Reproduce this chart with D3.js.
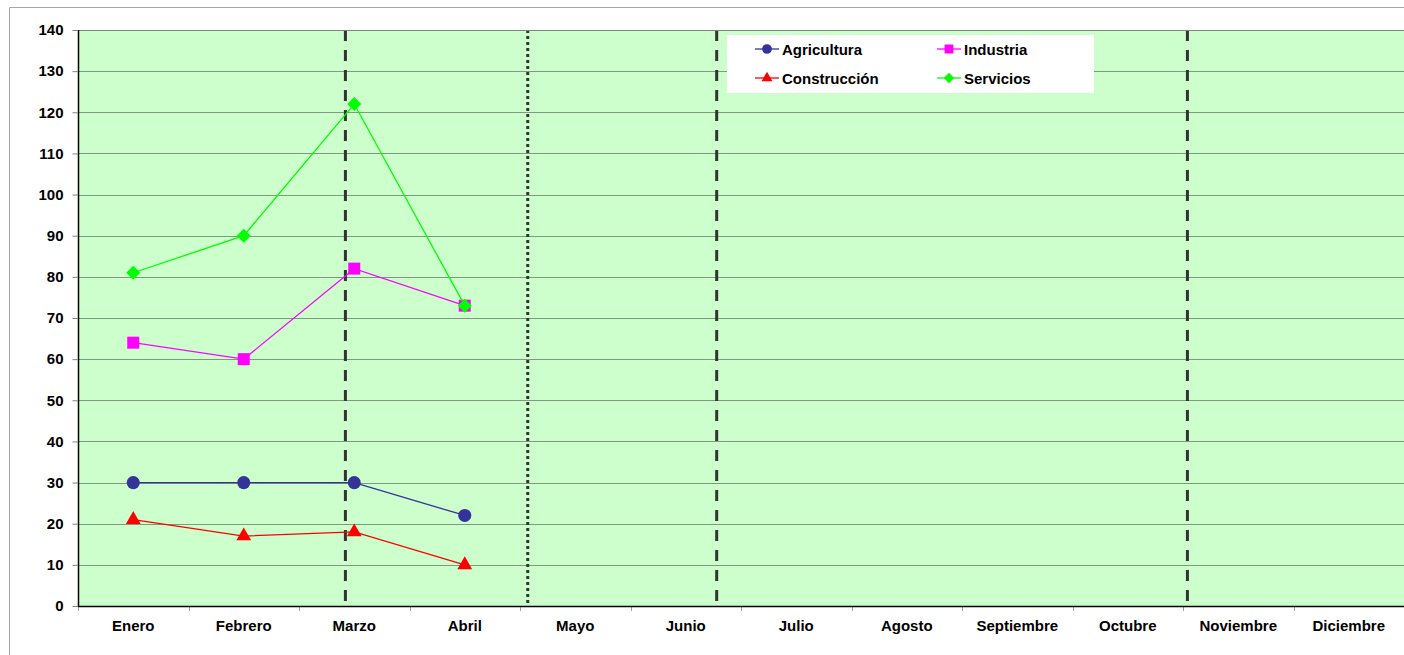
<!DOCTYPE html>
<html>
<head>
<meta charset="utf-8">
<script src="https://cdn.jsdelivr.net/npm/d3@7/dist/d3.min.js"></script>
<style>
  body { margin: 0; background: #fff; }
  svg { display: block; font-family: "Liberation Sans", Arial, sans-serif; }
</style>
</head>
<body>
<svg id="chart" width="1404" height="655"></svg>
<script>
// data
var months = ["Enero", "Febrero", "Marzo", "Abril", "Mayo", "Junio", "Julio",
  "Agosto", "Septiembre", "Octubre", "Noviembre", "Diciembre"];
var agricultura = [30, 30, 30, 22];
var industria = [64, 60, 82, 73];
var construccion = [21, 17, 18, 10];
var servicios = [81, 90, 122, 73];
var yTicks = [0, 10, 20, 30, 40, 50, 60, 70, 80, 90, 100, 110, 120, 130, 140];
// vertical marker lines, position in month units from the left edge
var dashedLines = [2.42, 5.78, 10.04];
var dottedLines = [4.07];

var series = [
  {name: "Agricultura", values: agricultura, color: "#333399", symbol: d3.symbolCircle, size: 135},
  {name: "Industria", values: industria, color: "#FF00FF", symbol: d3.symbolSquare, size: 144},
  {name: "Construcción", values: construccion, color: "#FF0000", symbol: d3.symbolTriangle, size: 95},
  {name: "Servicios", values: servicios, color: "#00FF00", symbol: d3.symbolDiamond2, size: 125}
];

drawChart();

function drawChart(){
  var svg = d3.select("#chart");
  var pLeft = 78, pTop = 30, pRight = 1404, pBottom = 606;
  var fs = 15;

  // outer chart border
  svg.append("path").attr("d", "M9.5,655 L9.5,7.5 L1404,7.5")
    .attr("fill", "none").attr("stroke", "#a6a6a6").attr("stroke-width", 1);

  var x = d3.scaleBand().domain(months).range([pLeft, pRight]);
  var xLin = d3.scaleLinear().domain([0, 12]).range([pLeft, pRight]);
  var y = d3.scaleLinear().domain([0, 140]).range([pBottom, pTop]);

  // plot background
  svg.append("rect").attr("x", pLeft).attr("y", pTop)
    .attr("width", pRight - pLeft).attr("height", pBottom - pTop)
    .attr("fill", "#CCFFCC");

  // grid
  svg.append("g").selectAll("line").data(yTicks.filter(function(d){ return d > 0; }))
    .enter().append("line")
    .attr("x1", pLeft).attr("x2", pRight)
    .attr("y1", function(d){ return Math.round(y(d)) + 0.5; })
    .attr("y2", function(d){ return Math.round(y(d)) + 0.5; })
    .attr("stroke", "#7f9a7f").attr("stroke-width", 1);

  // y axis
  var yAxis = svg.append("g").attr("transform", "translate(" + (pLeft - 0.5) + ",0)")
    .call(d3.axisLeft(y).tickValues(yTicks).tickSize(5).tickPadding(9));
  yAxis.select(".domain").remove();
  yAxis.selectAll("line").attr("stroke", "#808080");
  yAxis.selectAll("text").attr("font-size", fs).attr("font-weight", "bold").attr("fill", "#000")
    .attr("font-family", "Liberation Sans, Arial, sans-serif");

  // x axis ticks between categories
  svg.append("g").selectAll("line").data(d3.range(0, 13))
    .enter().append("line")
    .attr("x1", function(d){ return Math.round(xLin(d)) + 0.5; })
    .attr("x2", function(d){ return Math.round(xLin(d)) + 0.5; })
    .attr("y1", pBottom).attr("y2", pBottom + 5)
    .attr("stroke", "#a0a0a0");

  svg.append("g").selectAll("text").data(months)
    .enter().append("text")
    .attr("x", function(d){ return x(d) + x.bandwidth() / 2; })
    .attr("y", 631)
    .attr("text-anchor", "middle")
    .attr("font-size", fs).attr("font-weight", "bold")
    .text(function(d){ return d; });

  // dashed / dotted vertical lines
  svg.append("g").selectAll("line").data(dashedLines)
    .enter().append("line")
    .attr("x1", function(d){ return xLin(d); }).attr("x2", function(d){ return xLin(d); })
    .attr("y1", pTop).attr("y2", pBottom)
    .attr("stroke", "#333").attr("stroke-width", 3)
    .attr("stroke-dasharray", "11,9");
  svg.append("g").selectAll("line").data(dottedLines)
    .enter().append("line")
    .attr("x1", function(d){ return xLin(d); }).attr("x2", function(d){ return xLin(d); })
    .attr("y1", pTop).attr("y2", pBottom)
    .attr("stroke", "#333").attr("stroke-width", 3)
    .attr("stroke-dasharray", "3,3");

  // plot frame: top gray, left and bottom black
  svg.append("line").attr("x1", pLeft).attr("x2", pRight).attr("y1", pTop + 0.5).attr("y2", pTop + 0.5)
    .attr("stroke", "#808080");
  svg.append("path").attr("d", "M" + (pLeft + 0.5) + "," + pTop + " L" + (pLeft + 0.5) + "," + (pBottom + 0.5) + " L" + pRight + "," + (pBottom + 0.5))
    .attr("fill", "none").attr("stroke", "#000").attr("stroke-width", 1.5);

  // series
  var line = d3.line()
    .x(function(d, i){ return x(months[i]) + x.bandwidth() / 2; })
    .y(function(d){ return y(d); });

  series.forEach(function(s){
    svg.append("path").datum(s.values)
      .attr("d", line).attr("fill", "none")
      .attr("stroke", s.color).attr("stroke-width", 1.3);
    svg.append("g").selectAll("path").data(s.values)
      .enter().append("path")
      .attr("transform", function(d, i){
        return "translate(" + (x(months[i]) + x.bandwidth() / 2) + "," + y(d) + ")";
      })
      .attr("d", d3.symbol().type(s.symbol).size(s.size))
      .attr("fill", s.color);
  });

  // legend
  var legend = svg.append("g");
  legend.append("rect").attr("x", 727).attr("y", 35).attr("width", 367).attr("height", 58)
    .attr("fill", "#fff");
  var legPos = [[755, 49], [937, 49], [755, 78], [937, 78]];
  series.forEach(function(s, i){
    var g = legend.append("g").attr("transform", "translate(" + legPos[i][0] + "," + legPos[i][1] + ")");
    g.append("line").attr("x1", 0).attr("x2", 24).attr("stroke", s.color).attr("stroke-width", 1.3);
    g.append("path").attr("transform", "translate(12,0)")
      .attr("d", d3.symbol().type(s.symbol).size(s.size * 0.55)).attr("fill", s.color);
    g.append("text").attr("x", 27).attr("y", 5.5)
      .attr("font-size", fs).attr("font-weight", "bold").text(s.name);
  });
}
</script>
</body>
</html>
